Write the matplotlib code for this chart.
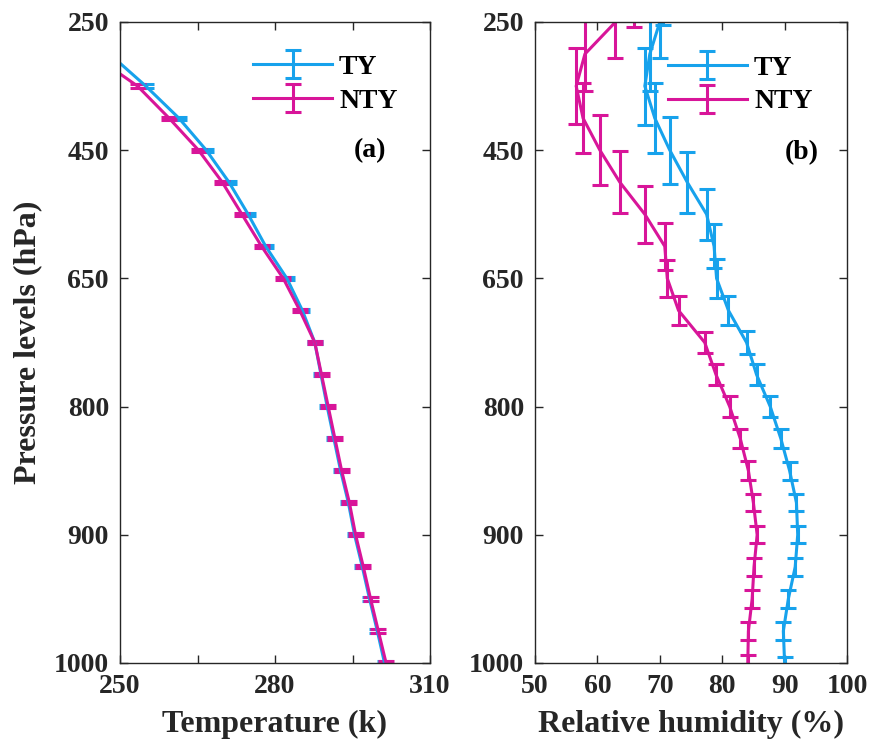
import matplotlib
matplotlib.use("Agg")
import matplotlib.pyplot as plt
import numpy as np

# ---------------- data ----------------
levels = [1000, 975, 950, 925, 900, 875, 850, 825, 800, 775, 750,
          700, 650, 600, 550, 500, 450, 400, 350, 300, 250, 200]
tick_levels = [1000, 900, 800, 650, 450, 250]

temp_ty = [301.2, 299.8, 298.3, 296.9, 295.4, 294.2, 292.7, 291.4, 290.1, 288.9, 287.7,
           285.3, 282.3, 278.2, 274.8, 271.1, 266.7, 261.4, 255.0, 248.0, 238.0, 224.0]
temp_nty = [301.5, 300.0, 298.5, 297.1, 295.6, 294.4, 292.9, 291.6, 290.3, 289.0, 287.7,
            284.8, 281.6, 277.4, 273.6, 269.8, 265.2, 259.5, 253.4, 244.5, 235.0, 222.0]
temp_err_ty = [0.05] * 22
temp_err_nty = [0.05] * 22

rh_ty = [90.0, 89.8, 90.6, 91.7, 92.1, 91.9, 90.8, 89.4, 87.7, 85.5, 83.9,
         81.0, 79.1, 78.7, 77.5, 74.4, 71.6, 69.2, 67.6, 68.4, 70.0, 70.5]
rh_nty = [84.1, 84.2, 84.8, 85.1, 85.6, 85.0, 84.2, 82.9, 81.2, 79.0, 77.2,
          73.0, 71.2, 70.8, 67.6, 63.6, 60.4, 57.7, 56.6, 58.0, 62.9, 65.9]
rh_err_ty = [0.20, 0.28, 0.28, 0.28, 0.27, 0.27, 0.28, 0.30, 0.33, 0.32, 0.35,
             0.45, 0.60, 0.69, 0.80, 0.95, 1.04, 1.10, 1.20, 1.15, 1.12, 1.10]
rh_err_nty = [0.25, 0.27, 0.29, 0.28, 0.27, 0.26, 0.29, 0.30, 0.32, 0.32, 0.33,
              0.46, 0.58, 0.74, 0.89, 0.97, 1.10, 1.10, 1.18, 1.15, 1.12, 1.15]

temp_ticks = [250, 265, 280, 295, 310]
temp_ticklabels = ["250", "", "280", "", "310"]
rh_ticks = [50, 60, 70, 80, 90, 100]

series_names = ["TY", "NTY"]
# --------------------------------------

C_TY = "#17A2EC"
C_NTY = "#D81599"
AX_C = "#262626"

plt.rcParams["font.family"] = ["Liberation Serif", "DejaVu Serif"]
plt.rcParams["font.weight"] = "bold"
plt.rcParams["axes.labelweight"] = "bold"

fig = plt.figure(figsize=(8.73, 7.55), dpi=100)
W, H = 873, 755
bottom = 1 - 663 / H
height = (663 - 22) / H
ax1 = fig.add_axes([120 / W, bottom, 310 / W, height])
ax2 = fig.add_axes([535 / W, bottom, 312 / W, height])

y = np.arange(len(levels))
tick_pos = [levels.index(p) for p in tick_levels]

def draw(ax, xty, xnty, ety, enty, cs):
    for xs, es, c, name in [(xty, ety, C_TY, series_names[0]),
                            (xnty, enty, C_NTY, series_names[1])]:
        ax.errorbar(xs, y, yerr=es, color=c, lw=2.2, elinewidth=2.2,
                    capsize=cs, capthick=2.2, label=name)

def style(ax):
    ax.set_ylim(levels.index(1000), levels.index(250))
    ax.set_yticks(tick_pos)
    ax.set_yticklabels([str(p) for p in tick_levels])
    ax.tick_params(direction="in", length=6, width=1, colors=AX_C,
                   top=True, right=True, labelsize=20, pad=8)
    for lab in ax.get_xticklabels() + ax.get_yticklabels():
        lab.set_fontweight("bold")
    for s in ax.spines.values():
        s.set_color(AX_C)
        s.set_linewidth(1.0)

leg_kw = dict(frameon=False, fontsize=20, handlelength=2.85, handletextpad=0.25,
              labelspacing=0.3, borderpad=0, borderaxespad=0)

draw(ax1, temp_ty, temp_nty, temp_err_ty, temp_err_nty, 5.8)
ax1.set_xlim(250, 310)
ax1.set_xticks(temp_ticks)
ax1.set_xticklabels(temp_ticklabels)
style(ax1)
ax1.set_xlabel("Temperature (k)", fontsize=23, fontweight="bold", color=AX_C, labelpad=8)
ax1.set_ylabel("Pressure levels (hPa)", fontsize=23, fontweight="bold", color=AX_C, labelpad=8)
ax1.text(0.806, 0.80, "(a)", transform=ax1.transAxes, fontsize=20,
         fontweight="bold", ha="center", va="center", color="black")
ax1.legend(loc="center left", bbox_to_anchor=(0.429, 0.903), **leg_kw)

draw(ax2, rh_ty, rh_nty, rh_err_ty, rh_err_nty, 6.0)
ax2.set_xlim(50, 100)
ax2.set_xticks(rh_ticks)
style(ax2)
ax2.set_xlabel("Relative humidity (%)", fontsize=23, fontweight="bold", color=AX_C, labelpad=8)
ax2.text(0.854, 0.797, "(b)", transform=ax2.transAxes, fontsize=20,
         fontweight="bold", ha="center", va="center", color="black")
ax2.legend(loc="center left", bbox_to_anchor=(0.426, 0.902), **leg_kw)

fig.savefig("out.png", dpi=100, facecolor="white")
